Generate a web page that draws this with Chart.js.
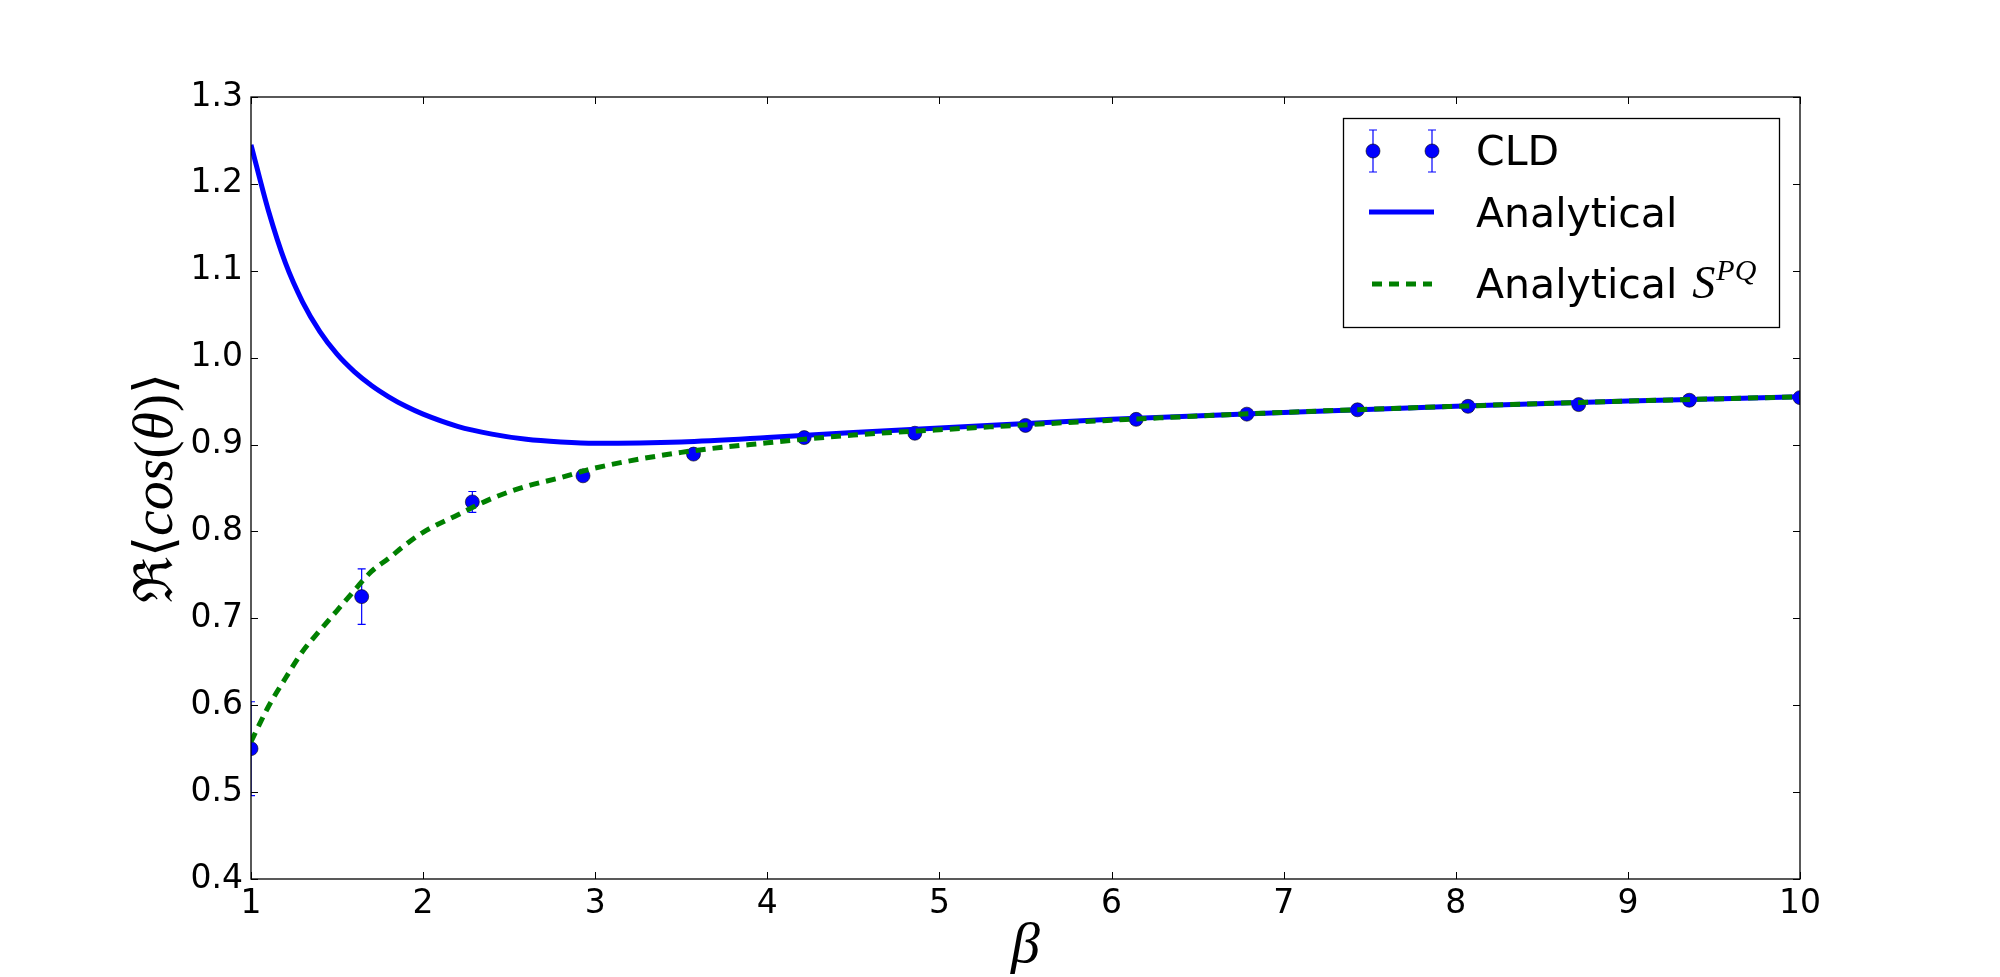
<!DOCTYPE html>
<html>
<head>
<meta charset="utf-8">
<script src="https://cdn.jsdelivr.net/npm/chart.js@4"></script>
<style>
  html, body { margin: 0; padding: 0; background: #fff; }
  #wrap { width: 2000px; height: 977px; position: relative; }
</style>
</head>
<body>
<div id="wrap"><canvas id="myChart"></canvas></div>
<script>
// CLD measurements (with error bars)
const cldBeta = [1, 1.643, 2.286, 2.929, 3.571, 4.214, 4.857, 5.5, 6.143, 6.786, 7.429, 8.071, 8.714, 9.357, 10];
const cldValue = [0.550, 0.725, 0.834, 0.864, 0.889, 0.908, 0.913, 0.922, 0.929, 0.935, 0.940, 0.944, 0.946, 0.951, 0.954];
const cldError = [0.054, 0.032, 0.012, 0.004, 0.003, 0.003, 0.003, 0.002, 0.002, 0.002, 0.002, 0.002, 0.002, 0.002, 0.002];

// analytical curves
const curveBeta = [1, 1.1, 1.2, 1.3, 1.4, 1.5, 1.6, 1.7, 1.8, 1.9, 2.0, 2.2, 2.4, 2.6, 2.8, 3.0, 3.5, 4, 4.5, 5, 6, 7, 8, 9, 10];
const analytical = [1.245, 1.170, 1.109, 1.064, 1.030, 1.004, 0.984, 0.968, 0.955, 0.944, 0.935, 0.921, 0.912, 0.906, 0.903, 0.9015, 0.903, 0.908, 0.914, 0.919, 0.929, 0.937, 0.944, 0.950, 0.955];
const analyticalPQ = [0.558, 0.598, 0.631, 0.662, 0.686, 0.709, 0.732, 0.754, 0.769, 0.785, 0.799, 0.819, 0.838, 0.852, 0.862, 0.873, 0.891, 0.902, 0.911, 0.917, 0.928, 0.937, 0.944, 0.950, 0.955];

const xTicks = [1, 2, 3, 4, 5, 6, 7, 8, 9, 10];
const yTicks = [0.4, 0.5, 0.6, 0.7, 0.8, 0.9, 1.0, 1.1, 1.2, 1.3];

const legendLabels = ["CLD", "Analytical", "Analytical "];

const toPoints = (xs, ys) => xs.map((x, i) => ({ x: x, y: ys[i] }));

const BLUE = "#0000ff";
const GREEN = "#008000";
const SANS = "'DejaVu Sans', sans-serif";
const SERIF = "'Liberation Serif', 'DejaVu Serif', serif";

// error bars under the CLD markers
const errorBars = {
  id: "errorBars",
  beforeDatasetDraw(chart, args) {
    if (args.index !== 0) return;
    const { ctx, chartArea, scales } = chart;
    ctx.save();
    ctx.beginPath();
    ctx.rect(chartArea.left, chartArea.top, chartArea.right - chartArea.left, chartArea.bottom - chartArea.top);
    ctx.clip();
    ctx.strokeStyle = BLUE;
    ctx.lineWidth = 1.2;
    cldBeta.forEach((b, i) => {
      const x = scales.x.getPixelForValue(b);
      const y1 = scales.y.getPixelForValue(cldValue[i] + cldError[i]);
      const y2 = scales.y.getPixelForValue(cldValue[i] - cldError[i]);
      ctx.beginPath();
      ctx.moveTo(x, y1); ctx.lineTo(x, y2);
      ctx.moveTo(x - 4, y1); ctx.lineTo(x + 4, y1);
      ctx.moveTo(x - 4, y2); ctx.lineTo(x + 4, y2);
      ctx.stroke();
    });
    ctx.restore();
  },
};

// frame, inward ticks, axis labels and legend
const decorations = {
  id: "decorations",
  afterDraw(chart) {
    const { ctx, chartArea: a, scales } = chart;
    ctx.save();
    ctx.strokeStyle = "#000";
    ctx.lineWidth = 1.3;
    ctx.strokeRect(a.left, a.top, a.right - a.left, a.bottom - a.top);
    ctx.lineWidth = 1;
    ctx.beginPath();
    xTicks.forEach((t) => {
      const x = Math.round(scales.x.getPixelForValue(t)) + 0.5;
      ctx.moveTo(x, a.bottom); ctx.lineTo(x, a.bottom - 7);
      ctx.moveTo(x, a.top); ctx.lineTo(x, a.top + 7);
    });
    yTicks.forEach((t) => {
      const y = Math.round(scales.y.getPixelForValue(t)) + 0.5;
      ctx.moveTo(a.left, y); ctx.lineTo(a.left + 7, y);
      ctx.moveTo(a.right, y); ctx.lineTo(a.right - 7, y);
    });
    ctx.stroke();

    // x label
    ctx.fillStyle = "#000";
    ctx.font = "italic 58px " + SERIF;
    ctx.textAlign = "center";
    ctx.textBaseline = "alphabetic";
    ctx.fillText("β", (a.left + a.right) / 2, 962);

    // y label (mathtext-like pieces)
    const parts = [
      ["ℜ⟨", "54px " + SERIF],
      ["cos", "italic 58px " + SERIF],
      ["(", "54px " + SERIF],
      ["θ", "italic 58px " + SERIF],
      [")⟩", "54px " + SERIF],
    ];
    let total = 0;
    parts.forEach((p) => { ctx.font = p[1]; total += ctx.measureText(p[0]).width; });
    ctx.translate(172, (a.top + a.bottom) / 2);
    ctx.rotate(-Math.PI / 2);
    ctx.textAlign = "left";
    let px = -total / 2;
    parts.forEach((p) => {
      ctx.font = p[1];
      ctx.fillText(p[0], px, 0);
      px += ctx.measureText(p[0]).width;
    });
    ctx.setTransform(1, 0, 0, 1, 0, 0);

    // legend
    const lx = 1343, ly = 118, lw = 436, lh = 209;
    ctx.fillStyle = "#fff";
    ctx.fillRect(lx, ly, lw, lh);
    ctx.strokeStyle = "#000";
    ctx.lineWidth = 1.3;
    ctx.strokeRect(lx + 0.5, ly + 0.5, lw, lh);

    // CLD entry
    [1373, 1432].forEach((mx) => {
      ctx.strokeStyle = BLUE;
      ctx.lineWidth = 1.2;
      ctx.beginPath();
      ctx.moveTo(mx, 130); ctx.lineTo(mx, 172);
      ctx.moveTo(mx - 4, 130); ctx.lineTo(mx + 4, 130);
      ctx.moveTo(mx - 4, 172); ctx.lineTo(mx + 4, 172);
      ctx.stroke();
      ctx.beginPath();
      ctx.arc(mx, 151, 7, 0, Math.PI * 2);
      ctx.fillStyle = BLUE;
      ctx.fill();
      ctx.strokeStyle = "#000";
      ctx.lineWidth = 0.6;
      ctx.stroke();
    });
    // Analytical entry
    ctx.strokeStyle = BLUE;
    ctx.lineWidth = 5;
    ctx.beginPath();
    ctx.moveTo(1369, 212); ctx.lineTo(1434, 212);
    ctx.stroke();
    // Analytical S^PQ entry
    ctx.strokeStyle = GREEN;
    ctx.setLineDash([10, 7]);
    ctx.beginPath();
    ctx.moveTo(1372, 284); ctx.lineTo(1432, 284);
    ctx.stroke();
    ctx.setLineDash([]);

    ctx.fillStyle = "#000";
    ctx.font = "41px " + SANS;
    ctx.textAlign = "left";
    ctx.fillText(legendLabels[0], 1476, 165);
    ctx.fillText(legendLabels[1], 1476, 227);
    ctx.fillText(legendLabels[2], 1476, 298);
    const w3 = ctx.measureText(legendLabels[2]).width;
    ctx.font = "italic 46px " + SERIF;
    ctx.fillText("S", 1476 + w3 + 2, 298);
    const ws = ctx.measureText("S").width;
    ctx.font = "italic 30px " + SERIF;
    ctx.fillText("PQ", 1476 + w3 + ws + 3, 280);
    ctx.restore();
  },
};

const ctx = document.getElementById("myChart");
const myChart = new Chart(ctx, {
  type: "scatter",
  data: {
    datasets: [
      {
        label: "CLD",
        data: toPoints(cldBeta, cldValue),
        showLine: false,
        pointRadius: 7,
        pointBackgroundColor: BLUE,
        pointBorderColor: "#000",
        pointBorderWidth: 0.6,
        clip: 0,
        order: 3,
      },
      {
        label: "Analytical",
        data: toPoints(curveBeta, analytical),
        showLine: true,
        borderColor: BLUE,
        borderWidth: 5,
        pointRadius: 0,
        cubicInterpolationMode: "monotone",
        clip: 0,
        order: 2,
      },
      {
        label: "Analytical S^PQ",
        data: toPoints(curveBeta, analyticalPQ),
        showLine: true,
        borderColor: GREEN,
        borderWidth: 5,
        borderDash: [10, 7],
        borderCapStyle: "butt",
        pointRadius: 0,
        cubicInterpolationMode: "monotone",
        clip: 0,
        order: 1,
      },
    ],
  },
  options: {
    responsive: true,
    maintainAspectRatio: false,
    animation: false,
    layout: { padding: { top: 97, right: 200, bottom: 0, left: 0 } },
    plugins: { legend: { display: false }, tooltip: { enabled: false } },
    scales: {
      x: {
        type: "linear",
        min: 1,
        max: 10,
        grid: { display: false, drawTicks: false },
        border: { display: false },
        afterBuildTicks: (scale) => { scale.ticks = xTicks.map((v) => ({ value: v })); },
        afterFit: (scale) => { scale.height = 98; },
        ticks: { color: "#000", padding: 6, font: { family: SANS, size: 33 }, callback: (v) => String(v) },
      },
      y: {
        type: "linear",
        min: 0.4,
        max: 1.3,
        grid: { display: false, drawTicks: false },
        border: { display: false },
        afterBuildTicks: (scale) => { scale.ticks = yTicks.map((v) => ({ value: v })); },
        afterFit: (scale) => { scale.width = 251; },
        ticks: { color: "#000", padding: 8, font: { family: SANS, size: 33 }, callback: (v) => Number(v).toFixed(1) },
      },
    },
  },
  plugins: [errorBars, decorations],
});
</script>
</body>
</html>
